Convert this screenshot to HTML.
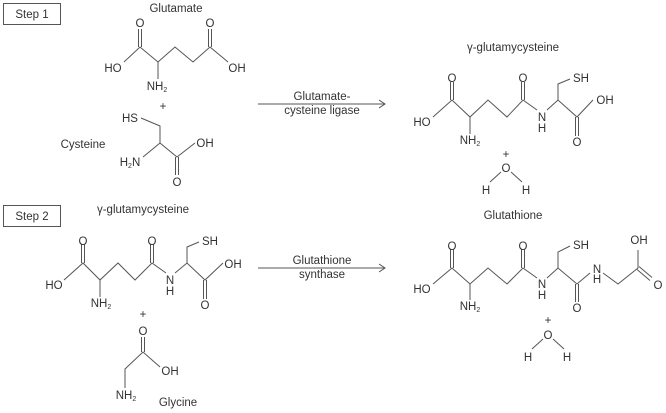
<!DOCTYPE html>
<html><head><meta charset="utf-8"><style>
html,body{margin:0;padding:0;background:#fff}
svg{display:block}
text{font-family:"Liberation Sans",sans-serif;font-size:11.5px;fill:#333}
.c{text-anchor:middle}
line,polyline{stroke:#555;stroke-width:1;fill:none}
</style></head><body>
<svg width="666" height="413" viewBox="0 0 666 413">
<!-- Step 1 -->
<rect x="3.5" y="3.5" width="57" height="21" fill="none" stroke="#555"/>
<text x="32" y="18" class="c">Step 1</text>
<text x="176" y="12" class="c">Glutamate</text>
<!-- glutamate -->
<polyline points="124,62 140,47 158,62 175,47 193,62 210,47 228,62"/>
<line x1="138.5" y1="29" x2="138.5" y2="47"/><line x1="141.5" y1="29" x2="141.5" y2="47"/>
<line x1="208.5" y1="29" x2="208.5" y2="47"/><line x1="211.5" y1="29" x2="211.5" y2="47"/>
<line x1="158" y1="62" x2="158" y2="79"/>
<text x="140" y="27" class="c">O</text><text x="210" y="27" class="c">O</text>
<text x="113" y="72" class="c">HO</text><text x="237" y="72" class="c">OH</text>
<text x="157" y="90" class="c">NH<tspan font-size="7" dy="2">2</tspan></text>
<text x="163" y="110" class="c">+</text>
<!-- cysteine -->
<text x="130" y="122" class="c">HS</text>
<polyline points="141,118 160,126 160,143 177,157 195,143"/>
<line x1="160" y1="143" x2="143" y2="157"/>
<line x1="175.5" y1="157" x2="175.5" y2="175"/><line x1="178.5" y1="157" x2="178.5" y2="175"/>
<text x="205" y="147" class="c">OH</text>
<text x="130" y="166" class="c">H<tspan font-size="7" dy="2">2</tspan><tspan dy="-2">N</tspan></text>
<text x="177" y="186" class="c">O</text>
<text x="83" y="148" class="c">Cysteine</text>
<!-- arrow 1 -->
<line x1="258" y1="104" x2="385" y2="104"/>
<polyline points="379,100 385,104 379,108"/>
<text x="322" y="100" class="c">Glutamate-</text>
<text x="322" y="114" class="c">cysteine ligase</text>
<!-- gamma-glutamylcysteine top -->
<text x="513" y="51" class="c">γ-glutamycysteine</text>
<polyline points="433,117 452,100 470,117 488,100 507,117 523,100 537,110"/>
<polyline points="547,110 558,100 577,117 593,100"/>
<polyline points="558,100 558,84 570,79"/>
<line x1="450.5" y1="82" x2="450.5" y2="100"/><line x1="453.5" y1="82" x2="453.5" y2="100"/>
<line x1="521.5" y1="82" x2="521.5" y2="100"/><line x1="524.5" y1="82" x2="524.5" y2="100"/>
<line x1="575.5" y1="117" x2="575.5" y2="136"/><line x1="578.5" y1="117" x2="578.5" y2="136"/>
<line x1="470" y1="117" x2="470" y2="134"/>
<text x="452" y="82" class="c">O</text><text x="523" y="82" class="c">O</text>
<text x="422" y="126" class="c">HO</text>
<text x="542" y="121" class="c">N</text><text x="542" y="132" class="c">H</text>
<text x="581" y="82" class="c">SH</text>
<text x="605" y="104" class="c">OH</text>
<text x="577" y="146" class="c">O</text>
<text x="470" y="144" class="c">NH<tspan font-size="7" dy="2">2</tspan></text>
<text x="506" y="158" class="c">+</text>
<text x="506" y="172" class="c">O</text>
<line x1="501" y1="172" x2="490" y2="182"/><line x1="511" y1="172" x2="522" y2="182"/>
<text x="486" y="194" class="c">H</text><text x="526" y="194" class="c">H</text>
<!-- Step 2 -->
<rect x="3.5" y="205.5" width="57" height="21" fill="none" stroke="#555"/>
<text x="32" y="220" class="c">Step 2</text>
<text x="143" y="213" class="c">γ-glutamycysteine</text>
<polyline points="64,280 83,263 100,280 118,263 135,280 152,263 166,273"/>
<polyline points="175,273 187,263 205,280 223,263"/>
<polyline points="187,263 187,247 199,242"/>
<line x1="81.5" y1="244" x2="81.5" y2="263"/><line x1="84.5" y1="244" x2="84.5" y2="263"/>
<line x1="150.5" y1="244" x2="150.5" y2="263"/><line x1="153.5" y1="244" x2="153.5" y2="263"/>
<line x1="203.5" y1="280" x2="203.5" y2="299"/><line x1="206.5" y1="280" x2="206.5" y2="299"/>
<line x1="100" y1="280" x2="100" y2="297"/>
<text x="83" y="245" class="c">O</text><text x="152" y="245" class="c">O</text>
<text x="54" y="289" class="c">HO</text>
<text x="170" y="284" class="c">N</text><text x="170" y="295" class="c">H</text>
<text x="210" y="245" class="c">SH</text>
<text x="233" y="268" class="c">OH</text>
<text x="205" y="309" class="c">O</text>
<text x="101" y="307" class="c">NH<tspan font-size="7" dy="2">2</tspan></text>
<text x="143" y="318" class="c">+</text>
<!-- glycine -->
<text x="143" y="335" class="c">O</text>
<line x1="141.5" y1="337" x2="141.5" y2="352"/><line x1="144.5" y1="337" x2="144.5" y2="352"/>
<polyline points="160,367 143,352 125,369 125,388"/>
<text x="170" y="375" class="c">OH</text>
<text x="126" y="399" class="c">NH<tspan font-size="7" dy="2">2</tspan></text>
<text x="178" y="406" class="c">Glycine</text>
<!-- arrow 2 -->
<line x1="258" y1="268" x2="385" y2="268"/>
<polyline points="379,264 385,268 379,272"/>
<text x="322" y="264" class="c">Glutathione</text>
<text x="322" y="278" class="c">synthase</text>
<!-- glutathione -->
<text x="513" y="219" class="c">Glutathione</text>
<polyline points="433,284 452,268 470,284 488,268 507,284 523,268 537,278"/>
<polyline points="547,278 558,268 577,284 590,273"/>
<polyline points="558,268 558,252 570,246"/>
<polyline points="603,273 618,284 638,268 638,250"/>
<line x1="639" y1="266.5" x2="652" y2="277.5"/><line x1="637" y1="269.5" x2="650" y2="280.5"/>
<line x1="450.5" y1="249" x2="450.5" y2="268"/><line x1="453.5" y1="249" x2="453.5" y2="268"/>
<line x1="521.5" y1="249" x2="521.5" y2="268"/><line x1="524.5" y1="249" x2="524.5" y2="268"/>
<line x1="575.5" y1="284" x2="575.5" y2="302"/><line x1="578.5" y1="284" x2="578.5" y2="302"/>
<line x1="470" y1="284" x2="470" y2="300"/>
<text x="452" y="250" class="c">O</text><text x="523" y="250" class="c">O</text>
<text x="422" y="293" class="c">HO</text>
<text x="542" y="288" class="c">N</text><text x="542" y="299" class="c">H</text>
<text x="597" y="273" class="c">N</text><text x="597" y="283" class="c">H</text>
<text x="581" y="249" class="c">SH</text>
<text x="639" y="244" class="c">OH</text>
<text x="658" y="289" class="c">O</text>
<text x="577" y="312" class="c">O</text>
<text x="470" y="310" class="c">NH<tspan font-size="7" dy="2">2</tspan></text>
<text x="548" y="324" class="c">+</text>
<text x="548" y="339" class="c">O</text>
<line x1="543" y1="339" x2="532" y2="349"/><line x1="553" y1="339" x2="564" y2="349"/>
<text x="528" y="361" class="c">H</text><text x="567" y="361" class="c">H</text>
</svg>
</body></html>
